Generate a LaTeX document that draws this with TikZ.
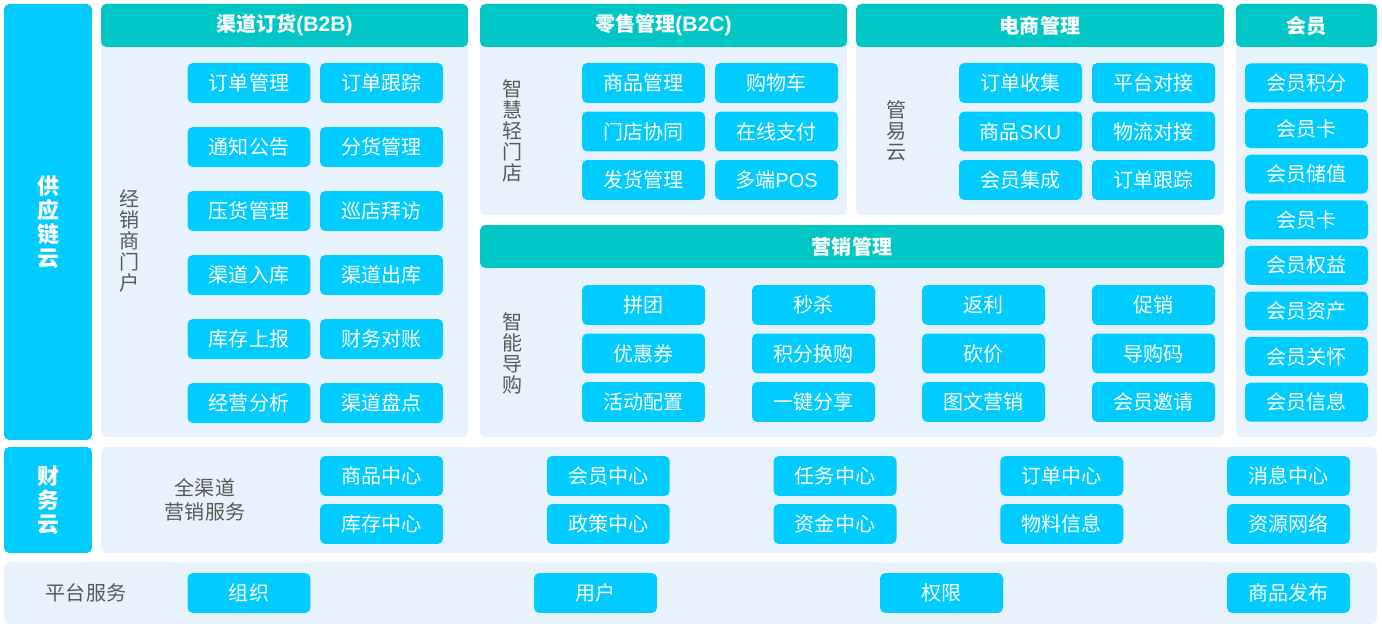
\documentclass[tikz,border=0pt]{standalone}
\usepackage{fontspec}
\setmainfont{Noto Sans CJK SC}
\newfontfamily\latfont{Liberation Sans}
\usetikzlibrary{positioning}
\definecolor{itemblue}{HTML}{00CCFF}
\definecolor{headteal}{HTML}{00C6C6}
\definecolor{panelbg}{HTML}{E8F2FC}
\definecolor{labelgray}{HTML}{595959}
\tikzset{
  item/.style={fill=itemblue,rounded corners=3pt,minimum width=2.46cm,minimum height=0.8cm,inner sep=0pt,text=white,font=\fontsize{11.4}{13}\selectfont},
  head/.style={fill=headteal,rounded corners=3pt,minimum height=0.86cm,inner sep=0pt,text=white,font=\bfseries\fontsize{11.4}{13}\selectfont},
  panel/.style={fill=panelbg,rounded corners=3pt,inner sep=0pt},
  side/.style={fill=itemblue,rounded corners=3pt,minimum width=1.76cm,inner sep=0pt,text=white,align=center,font=\bfseries\fontsize{12.5}{13.7}\selectfont},
  tag/.style={text=labelgray,align=center,inner sep=0pt,font=\fontsize{11.4}{12}\selectfont},
}
\begin{document}
\begin{tikzpicture}[x=0.02cm,y=-0.02cm]
\useasboundingbox[fill=white] (0,0) rectangle (1382,631);
% left bars
\node[side,minimum height=8.72cm] (supply) at (48,222) {供\\应\\链\\云};
\node[side,minimum height=2.12cm] (fin) at (48,500) {财\\务\\云};
% panels
\node[panel,minimum width=7.34cm,minimum height=8.66cm] (p_b2b) at (284.5,220.5) {};
\node[panel,minimum width=7.34cm,minimum height=4.22cm] (p_b2c) at (663.5,109.5) {};
\node[panel,minimum width=7.36cm,minimum height=4.22cm] (p_ec) at (1040,109.5) {};
\node[panel,minimum width=2.82cm,minimum height=8.66cm] (p_vip) at (1306.5,220.5) {};
\node[panel,minimum width=14.88cm,minimum height=4.24cm] (p_mkt) at (852,331) {};
\node[panel,minimum width=25.52cm,minimum height=2.12cm] (p_all) at (739,500) {};
\node[panel,minimum width=27.46cm,minimum height=1.24cm] (p_plat) at (690.5,593) {};
% headers
\node[head,minimum width=7.34cm] (h_b2b) at (284.5,25.5) {渠道订货{\latfont\fontsize{12}{13}\selectfont (B2B)}};
\node[head,minimum width=7.34cm] (h_b2c) at (663.5,25.5) {零售管理{\latfont\fontsize{12}{13}\selectfont (B2C)}};
\node[head,minimum width=7.36cm] (h_ec) at (1040,25.5) {电商管理};
\node[head,minimum width=2.82cm] (h_vip) at (1306.5,25.5) {会员};
\node[head,minimum width=14.88cm] (h_mkt) at (852,246.5) {营销管理};
% side labels
\node[tag] (t_b2b) at (130,241) {经\\销\\商\\门\\户};
\node[tag] (t_b2c) at (513,131) {智\\慧\\轻\\门\\店};
\node[tag] (t_ec) at (897,131) {管\\易\\云};
\node[tag] (t_mkt) at (513,353) {智\\能\\导\\购};
\node[tag,font=\fontsize{11.4}{14}\selectfont] (t_all) at (205,500) {全渠道\\营销服务};
\node[tag,font=\fontsize{11.4}{14}\selectfont] (t_plat) at (86,593) {平台服务};
% B2B items
\foreach \a/\b [count=\r] in {订单管理/订单跟踪,通知公告/分货管理,压货管理/巡店拜访,渠道入库/渠道出库,库存上报/财务对账,经营分析/渠道盘点}{
  \node[item] (b2b\r a) at (249,19+64*\r) {\a};
  \node[item] (b2b\r b) at (381.5,19+64*\r) {\b};
}
% B2C items
\foreach \a/\b [count=\r] in {商品管理/购物车,门店协同/在线支付,发货管理/多端{\latfont POS}}{
  \node[item] (b2c\r a) at (643.5,34.5+48.5*\r) {\a};
  \node[item] (b2c\r b) at (776.5,34.5+48.5*\r) {\b};
}
% e-commerce items
\foreach \a/\b [count=\r] in {订单收集/平台对接,商品{\latfont SKU}/物流对接,会员集成/订单跟踪}{
  \node[item] (ec\r a) at (1020.5,34.5+48.5*\r) {\a};
  \node[item] (ec\r b) at (1153.5,34.5+48.5*\r) {\b};
}
% marketing items
\foreach \a/\b/\c/\d [count=\r] in {拼团/秒杀/返利/促销,优惠券/积分换购/砍价/导购码,活动配置/一键分享/图文营销/会员邀请}{
  \node[item] (mkt\r a) at (643.5,256.5+48.5*\r) {\a};
  \node[item] (mkt\r b) at (813.5,256.5+48.5*\r) {\b};
  \node[item] (mkt\r c) at (983.5,256.5+48.5*\r) {\c};
  \node[item] (mkt\r d) at (1153.5,256.5+48.5*\r) {\d};
}
% member items
\foreach \a [count=\r] in {会员积分,会员卡,会员储值,会员卡,会员权益,会员资产,会员关怀,会员信息}{
  \node[item,minimum height=0.78cm] (vip\r) at (1306.5,37.4+45.6*\r) {\a};
}
% all-channel services
\foreach \a/\b [count=\c] in {商品中心/库存中心,会员中心/政策中心,任务中心/资金中心,订单中心/物料信息,消息中心/资源网络}{
  \node[item] (all\c a) at (154.75+226.75*\c,476) {\a};
  \node[item] (all\c b) at (154.75+226.75*\c,524) {\b};
}
% platform services
\node[item] (plat1) at (249,593) {组织};
\node[item] (plat2) at (595.5,593) {用户};
\node[item] (plat3) at (941.5,593) {权限};
\node[item] (plat4) at (1288.5,593) {商品发布};
\end{tikzpicture}
\end{document}
